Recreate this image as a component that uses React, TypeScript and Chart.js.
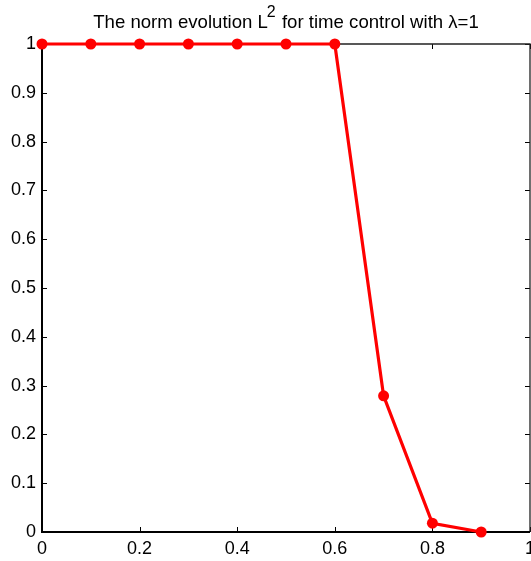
import React, { useEffect, useRef } from "react";
import { Chart, registerables } from "chart.js";

Chart.register(...registerables);

const xValues = [0, 0.1, 0.2, 0.3, 0.4, 0.5, 0.6, 0.7, 0.8, 0.9];
const normValues = [1, 1, 1, 1, 1, 1, 1, 0.279, 0.018, 0.0];
const titleParts = ["The norm evolution L", "2", " for time control with λ=1"];

const FONT = "'Liberation Sans', Arial, sans-serif";

const framePlugin = {
  id: "frame",
  beforeDatasetsDraw(chart: any) {
    const { ctx, chartArea: a, scales } = chart;
    ctx.save();
    ctx.strokeStyle = "#000";
    ctx.lineWidth = 1;
    const tl = 5;
    scales.x.ticks.forEach((t: any) => {
      const x = Math.round(scales.x.getPixelForValue(t.value)) + 0.5;
      ctx.beginPath();
      ctx.moveTo(x, a.bottom);
      ctx.lineTo(x, a.bottom - tl);
      ctx.moveTo(x, a.top);
      ctx.lineTo(x, a.top + tl);
      ctx.stroke();
    });
    scales.y.ticks.forEach((t: any) => {
      const y = Math.round(scales.y.getPixelForValue(t.value)) + 0.5;
      ctx.beginPath();
      ctx.moveTo(a.left, y);
      ctx.lineTo(a.left + tl, y);
      ctx.moveTo(a.right, y);
      ctx.lineTo(a.right - tl, y);
      ctx.stroke();
    });
    ctx.strokeStyle = "#222";
    ctx.lineWidth = 1.3;
    ctx.beginPath();
    ctx.moveTo(a.left, a.top);
    ctx.lineTo(a.right, a.top);
    ctx.lineTo(a.right, a.bottom);
    ctx.stroke();
    ctx.strokeStyle = "#000";
    ctx.lineWidth = 2;
    ctx.beginPath();
    ctx.moveTo(a.left, a.top);
    ctx.lineTo(a.left, a.bottom);
    ctx.lineTo(a.right, a.bottom);
    ctx.stroke();
    ctx.restore();
  },
};

const titlePlugin = {
  id: "supTitle",
  afterDraw(chart: any) {
    const { ctx, chartArea: a } = chart;
    ctx.save();
    ctx.fillStyle = "#000";
    ctx.textBaseline = "alphabetic";
    const main = `18.6px ${FONT}`;
    const sup = `16px ${FONT}`;
    ctx.font = main;
    const w0 = ctx.measureText(titleParts[0]).width;
    const w2 = ctx.measureText(titleParts[2]).width;
    ctx.font = sup;
    const w1 = ctx.measureText(titleParts[1]).width;
    const total = w0 + w1 + w2;
    let x = (a.left + a.right) / 2 - total / 2;
    const y = 28;
    ctx.font = main;
    ctx.textAlign = "left";
    ctx.fillText(titleParts[0], x, y);
    x += w0 - 1;
    ctx.font = sup;
    ctx.fillText(titleParts[1], x, y - 11);
    x += w1 + 1;
    ctx.font = main;
    ctx.fillText(titleParts[2], x, y);
    ctx.restore();
  },
};

export default function App() {
  const ref = useRef<HTMLCanvasElement>(null);
  useEffect(() => {
    document.body.style.margin = "0";
    const chart = new Chart(ref.current!, {
      type: "line",
      data: {
        datasets: [
          {
            data: xValues.map((x, i) => ({ x, y: normValues[i] })),
            borderColor: "#ff0000",
            backgroundColor: "#ff0000",
            borderWidth: 3.2,
            pointRadius: 5.5,
            pointBorderWidth: 0,
            pointBackgroundColor: "#ff0000",
            tension: 0,
            clip: false as any,
          },
        ],
      },
      options: {
        animation: false,
        responsive: false,
        devicePixelRatio: 1,
        layout: { autoPadding: false, padding: { top: 44, right: 1, left: 0, bottom: 0 } },
        plugins: {
          legend: { display: false },
          title: { display: false },
          tooltip: { enabled: false },
        },
        scales: {
          x: {
            type: "linear",
            min: 0,
            max: 1,
            ticks: {
              stepSize: 0.2,
              color: "#000",
              font: { family: FONT, size: 18 },
              padding: 6,
              maxRotation: 0,
              callback: (v: any) => String(Math.round(Number(v) * 10) / 10),
            },
            grid: { display: false, drawTicks: false },
            border: { display: false },
            afterFit: (s: any) => {
              s.height = 29;
              s.paddingLeft = 0;
              s.paddingRight = 0;
            },
          },
          y: {
            min: 0,
            max: 1,
            ticks: {
              stepSize: 0.1,
              color: "#000",
              font: { family: FONT, size: 18 },
              padding: 6,
              callback: (v: any) => String(Math.round(Number(v) * 10) / 10),
            },
            grid: { display: false, drawTicks: false },
            border: { display: false },
            afterFit: (s: any) => {
              s.width = 42;
              s.paddingTop = 0;
              s.paddingBottom = 0;
            },
          },
        },
      },
      plugins: [framePlugin, titlePlugin],
    });
    return () => chart.destroy();
  }, []);
  return (
    <div style={{ position: "absolute", left: 0, top: 0, width: 531, height: 561, background: "#fff" }}>
      <canvas ref={ref} width={531} height={561} />
    </div>
  );
}
